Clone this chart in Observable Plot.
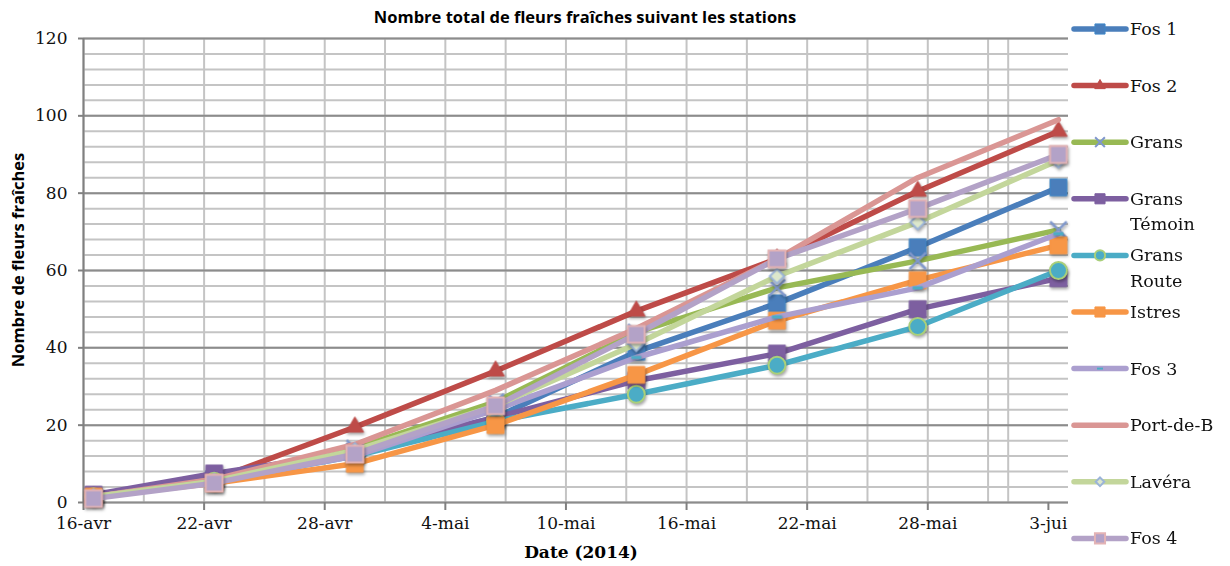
<!DOCTYPE html>
<html><head><meta charset="utf-8">
<script src="https://cdn.jsdelivr.net/npm/d3@7"></script>
<script src="https://cdn.jsdelivr.net/npm/@observablehq/plot@0.6"></script>
<style>
html,body{margin:0;padding:0;background:#fff;}
#chart{position:relative;width:1230px;height:566px;overflow:hidden;}
</style></head><body><div id="chart"></div>
<script>
// ---------- data ----------
const dates = ["2014-04-16","2014-04-22","2014-04-29","2014-05-06","2014-05-13","2014-05-20","2014-05-27","2014-06-03"];
const seriesNames = ["Fos 1","Fos 2","Grans","Grans Témoin","Grans Route","Istres","Fos 3","Port-de-B","Lavéra","Fos 4"];
const fos1        = [1.5, 6,   13,   22, 39,   51.5, 66,   81.5];
const fos2        = [1.5, 6,   19.5, 34, 49.5, 63,   80.5, 96];
const grans       = [1.5, 6,   14,   26, 44,   55.5, 62.5, 70.5];
const gransTemoin = [2,   7.5, 13,   22, 31.5, 38.5, 50,   58];
const gransRoute  = [1.5, 5.5, 12,   21, 28,   35.5, 45.5, 60];
const istres      = [1.5, 5,   10,   20, 33,   47,   57.5, 66.5];
const fos3        = [1.5, 5.5, 12,   24, 37.5, 48,   55.5, 69.5];
const portDeB     = [1.5, 6,   15,   29, 45,   63,   84,   99];
const lavera      = [1.5, 5.5, 13.5, 25, 41,   58.5, 72.5, 88.5];
const fos4        = [1,   5,   12.5, 25, 43.5, 63,   76,   90];
const seriesValues = [fos1, fos2, grans, gransTemoin, gransRoute, istres, fos3, portDeB, lavera, fos4];
const tickDates  = ["2014-04-16","2014-04-22","2014-04-28","2014-05-04","2014-05-10","2014-05-16","2014-05-22","2014-05-28","2014-06-03"];
const tickLabels = ["16-avr","22-avr","28-avr","4-mai","10-mai","16-mai","22-mai","28-mai","3-jui"];
const yTicks = [0, 20, 40, 60, 80, 100, 120];
const titleText = "Nombre total de fleurs fraîches suivant les stations";
const xLabel = "Date (2014)";
const yLabel = "Nombre de fleurs fraîches";

// ---------- styles ----------
const dashSymbol = {draw(ctx, size){ const r = Math.sqrt(size / Math.PI); ctx.rect(-r, -r*0.32, 2*r, r*0.64); }};
const styles = [
  {color:"#4a7ebb", symbol:"square",   r:9.5, fill:"#4a7ebb", stroke:"#3f88c8", sw:1},
  {color:"#be4b48", symbol:"triangle", r:6.5, fill:"#be4b48", stroke:"#be4b48", sw:1},
  {color:"#98b954", symbol:"times",    r:7.5, fill:"none",    stroke:"#7f97cc", sw:2.5},
  {color:"#7d5fa0", symbol:"square",   r:9.5, fill:"#7d5fa0", stroke:"#7d5fa0", sw:1},
  {color:"#4bacc6", symbol:"circle",   r:8.5, fill:"#4bacc6", stroke:"#a9cf7a", sw:2},
  {color:"#f79646", symbol:"square",   r:9.5, fill:"#f79646", stroke:"#f79646", sw:1},
  {color:"#ab9fcf", symbol:dashSymbol, r:5,   fill:"#4bacc6", stroke:"none",    sw:0},
  {color:"#da9694", symbol:null},
  {color:"#c3d69b", symbol:"diamond2", r:6.5, fill:"#dde8cc", stroke:"#9bb4d8", sw:2},
  {color:"#b3a2c7", symbol:"square",   r:9.5, fill:"#b3a2c7", stroke:"#e3b3b5", sw:2}
];

const noon = d => new Date(d + "T12:00:00Z");
const rows = [];
seriesNames.forEach((name, si) => dates.forEach((d, i) => rows.push({series: name, si, date: noon(d), value: seriesValues[si][i]})));

const xDomain = [new Date("2014-04-16T00:00:00Z"), new Date("2014-06-04T00:00:00Z")];
const vGrid = d3.utcDay.every(3).range(xDomain[0], xDomain[1]);
const hMinor = d3.range(0, 121, 4);

const marks = [
  Plot.ruleY(hMinor, {stroke:"#c4c4c4", strokeWidth:2}),
  Plot.ruleX(vGrid, {stroke:"#c4c4c4", strokeWidth:2}),
  Plot.ruleY(yTicks, {stroke:"#8c8c8c", strokeWidth:2}),
  Plot.ruleX([xDomain[0]], {stroke:"#808080", strokeWidth:2}),
  Plot.axisX({ticks: tickDates.map(d => new Date(d + "T00:00:00Z")), tickFormat: d => tickLabels[tickDates.indexOf(d.toISOString().slice(0,10))], tickSize: 8, tickPadding: 6, stroke:"#808080", strokeWidth:2, label:null, fontSize:17}),
  Plot.axisY({ticks: yTicks, tickSize: 5, tickPadding: 11, stroke:"#808080", strokeWidth:2, label:null, fontSize:17})
];
seriesNames.forEach((name, si) => {
  const st = styles[si];
  const data = rows.filter(r => r.si === si);
  marks.push(Plot.line(data, {x:"date", y:"value", stroke: st.color, strokeWidth:5.5, strokeLinejoin:"round", strokeLinecap:"round"}));
  if (st.symbol) marks.push(Plot.dot(data, {x:"date", y:"value", symbol: st.symbol, r: st.r, fill: st.fill, stroke: st.stroke, strokeWidth: st.sw}));
});

const chart = Plot.plot({
  width: 1230, height: 566,
  marginLeft: 83, marginRight: 162, marginTop: 38, marginBottom: 64,
  x: {type:"utc", domain: xDomain},
  y: {domain:[0,120]},
  style: {fontFamily:"'DejaVu Serif', serif", fontSize:"17px", color:"#111", background:"#fff"},
  marks
});
document.getElementById("chart").appendChild(chart);

const svg = d3.select(chart);
svg.selectAll('g[aria-label="dot"]').style("filter","drop-shadow(1px 2px 1.5px rgba(0,0,0,0.35))");

// title & axis labels
svg.append("text").attr("x", 585).attr("y", 23).attr("text-anchor","middle")
  .style("font-family","'Open Sans', sans-serif").style("font-weight","bold").style("font-size","16.5px").attr("fill","#000").text(titleText);
svg.append("text").attr("transform","translate(24,260) rotate(-90)").attr("text-anchor","middle")
  .style("font-family","'Open Sans', sans-serif").style("font-weight","bold").style("font-size","16.5px").attr("fill","#000").text(yLabel);
svg.append("text").attr("x", 581).attr("y", 558).attr("text-anchor","middle")
  .style("font-family","'DejaVu Serif', serif").style("font-weight","bold").style("font-size","17px").attr("fill","#000").text(xLabel);

// legend
const lg = svg.append("g").attr("text-anchor","start");
const symMap = {square:d3.symbolSquare, triangle:d3.symbolTriangle, times:d3.symbolTimes, circle:d3.symbolCircle, diamond2:d3.symbolDiamond2};
seriesNames.forEach((name, si) => {
  const st = styles[si];
  const cy = 29 + si * 56.6;
  const g = lg.append("g").attr("transform", `translate(0,${cy})`);
  g.append("line").attr("x1",1074).attr("x2",1126).attr("y1",0).attr("y2",0).attr("stroke",st.color).attr("stroke-width",5.5).attr("stroke-linecap","round");
  if (st.symbol) {
    const type = typeof st.symbol === "string" ? symMap[st.symbol] : st.symbol;
    const rr = st.r * 0.6;
    g.append("path").attr("transform","translate(1100,0)").attr("d", d3.symbol(type, Math.PI*rr*rr)())
      .attr("fill", st.fill).attr("stroke", st.stroke).attr("stroke-width", Math.min(st.sw, 2));
  }
  const parts = name === "Grans Témoin" ? ["Grans","Témoin"] : name === "Grans Route" ? ["Grans","Route"] : [name];
  parts.forEach((p, k) => g.append("text").attr("x",1130).attr("y", 6 + k*25.5).attr("text-anchor","start")
    .style("font-family","'DejaVu Serif', serif").style("font-size","17.5px").attr("fill","#111").text(p));
});
</script></body></html>
